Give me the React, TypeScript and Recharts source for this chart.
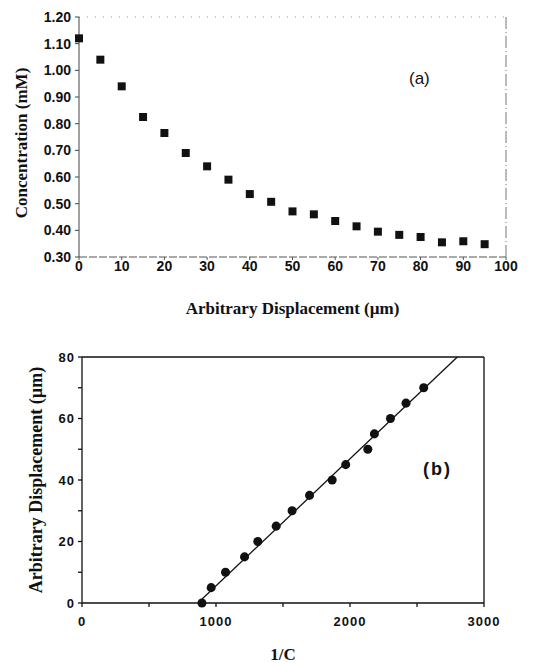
import React from 'react';
import { ScatterChart, Scatter, XAxis, YAxis } from 'recharts';

// panel (a): concentration profile
const displacementA = [0, 5, 10, 15, 20, 25, 30, 35, 40, 45, 50, 55, 60, 65, 70, 75, 80, 85, 90, 95];
const concentration = [1.12, 1.04, 0.94, 0.825, 0.765, 0.69, 0.64, 0.59, 0.536, 0.507, 0.471, 0.46, 0.435, 0.415, 0.395, 0.383, 0.375, 0.355, 0.359, 0.348];
const ticksXA = [0, 10, 20, 30, 40, 50, 60, 70, 80, 90, 100];
const ticksYA = [0.3, 0.4, 0.5, 0.6, 0.7, 0.8, 0.9, 1.0, 1.1, 1.2];

// panel (b): displacement vs 1/C
const inverseC = [895, 964, 1071, 1213, 1312, 1449, 1568, 1698, 1867, 1968, 2133, 2182, 2302, 2418, 2550];
const displacementB = [0, 5, 10, 15, 20, 25, 30, 35, 40, 45, 50, 55, 60, 65, 70];
const fitX = [865, 2801];
const fitY = [0, 80];
const ticksXB = [0, 500, 1000, 1500, 2000, 2500, 3000];
const ticksYB = [0, 10, 20, 30, 40, 50, 60, 70, 80];

const pointsA = displacementA.map((x, i) => ({ x, y: concentration[i] }));
const pointsB = inverseC.map((x, i) => ({ x, y: displacementB[i] }));
const fitLine = fitX.map((x, i) => ({ x, y: fitY[i] }));

const SANS = '"Liberation Sans", Arial, sans-serif';
const SERIF = '"Liberation Serif", "Times New Roman", serif';

const tickA = { fontFamily: SANS, fontSize: 14, fontWeight: 700, fill: '#111' };
const tickB = { fontFamily: SANS, fontSize: 13, fontWeight: 700, fill: '#111', letterSpacing: 1 };
const titleStyle = { fontFamily: SERIF, fontSize: 17, fontWeight: 700, fill: '#111' };

const NoShape = () => <g />;

export default function App() {
  return (
    <div style={{ position: 'absolute', left: 0, top: 0, width: 548, height: 663, background: '#fff' }}>
      {/* (a) */}
      <div style={{ position: 'absolute', left: 0, top: 0 }}>
        <ScatterChart width={548} height={320} margin={{ top: 16, right: 41, left: 0, bottom: 0 }}>
          <XAxis
            type="number"
            dataKey="x"
            domain={[0, 100]}
            ticks={ticksXA}
            height={63}
            stroke="#555"
            strokeDasharray="8 2"
            tickSize={3}
            tickMargin={1}
            tick={tickA}
            label={{ value: 'Arbitrary Displacement (\u00b5m)', position: 'insideBottom', offset: 6, style: titleStyle }}
          />
          <XAxis xAxisId="top" type="number" dataKey="x" orientation="top" domain={[0, 100]} height={1} tick={false} tickLine={false} stroke="#999" strokeDasharray="1 7" />
          <YAxis
            type="number"
            dataKey="y"
            domain={[0.3, 1.2]}
            ticks={ticksYA}
            width={79}
            stroke="#444"
            tickSize={4}
            tickMargin={4}
            tick={tickA}
            tickFormatter={(v: number) => v.toFixed(2)}
            label={{ value: 'Concentration (mM)', angle: -90, position: 'insideLeft', offset: 21, dy: 6, style: { ...titleStyle, textAnchor: 'middle' } }}
          />
          <YAxis yAxisId="right" type="number" dataKey="y" orientation="right" domain={[0.3, 1.2]} width={1} tick={false} tickLine={false} stroke="#777" strokeDasharray="12 3 1 3" />
          <Scatter data={pointsA} fill="#111" shape="square" legendType="none" isAnimationActive={false} />
          {/* invisible series so the frame axes render */}
          <Scatter data={pointsA} xAxisId="top" yAxisId="right" shape={NoShape} legendType="none" isAnimationActive={false} />
        </ScatterChart>
        <div style={{ position: 'absolute', left: 409, top: 69, fontFamily: SANS, fontSize: 17, color: '#111' }}>(a)</div>
      </div>

      {/* (b) */}
      <div style={{ position: 'absolute', left: 0, top: 330 }}>
        <ScatterChart width={548} height={333} margin={{ top: 26, right: 63, left: 0, bottom: 0 }}>
          <XAxis
            type="number"
            dataKey="x"
            domain={[0, 3000]}
            ticks={ticksXB}
            height={60}
            stroke="#111"
            strokeWidth={1.3}
            tickSize={4}
            tickMargin={10}
            tick={tickB}
            tickFormatter={(v: number) => (v % 1000 === 0 ? String(v) : '')}
            label={{ value: '1/C', position: 'insideBottom', offset: 3, style: titleStyle }}
          />
          <XAxis xAxisId="top" type="number" dataKey="x" orientation="top" domain={[0, 3000]} ticks={ticksXB} height={1} tick={false} tickSize={3} stroke="#111" strokeWidth={1.3} />
          <YAxis
            type="number"
            dataKey="y"
            domain={[0, 80]}
            ticks={ticksYB}
            width={82}
            stroke="#111"
            strokeWidth={1.3}
            tickSize={4}
            tickMargin={3}
            tick={tickB}
            tickFormatter={(v: number) => (v % 20 === 0 ? String(v) : '')}
            label={{ value: 'Arbitrary Displacement (\u00b5m)', angle: -90, position: 'insideLeft', offset: 36, style: { ...titleStyle, fontSize: 18, textAnchor: 'middle' } }}
          />
          <YAxis yAxisId="right" type="number" dataKey="y" orientation="right" domain={[0, 80]} ticks={ticksYB} width={1} tick={false} tickSize={3} stroke="#111" strokeWidth={1.3} />
          <Scatter data={fitLine} line={{ stroke: '#111', strokeWidth: 1.3 }} shape={NoShape} legendType="none" isAnimationActive={false} />
          <Scatter data={pointsB} fill="#111" shape="circle" legendType="none" isAnimationActive={false} />
          {/* invisible series so the frame axes render */}
          <Scatter data={fitLine} xAxisId="top" yAxisId="right" shape={NoShape} legendType="none" isAnimationActive={false} />
        </ScatterChart>
        <div style={{ position: 'absolute', left: 423, top: 129, fontFamily: SANS, fontSize: 18, fontWeight: 700, letterSpacing: 2, color: '#111' }}>(b)</div>
      </div>
    </div>
  );
}
